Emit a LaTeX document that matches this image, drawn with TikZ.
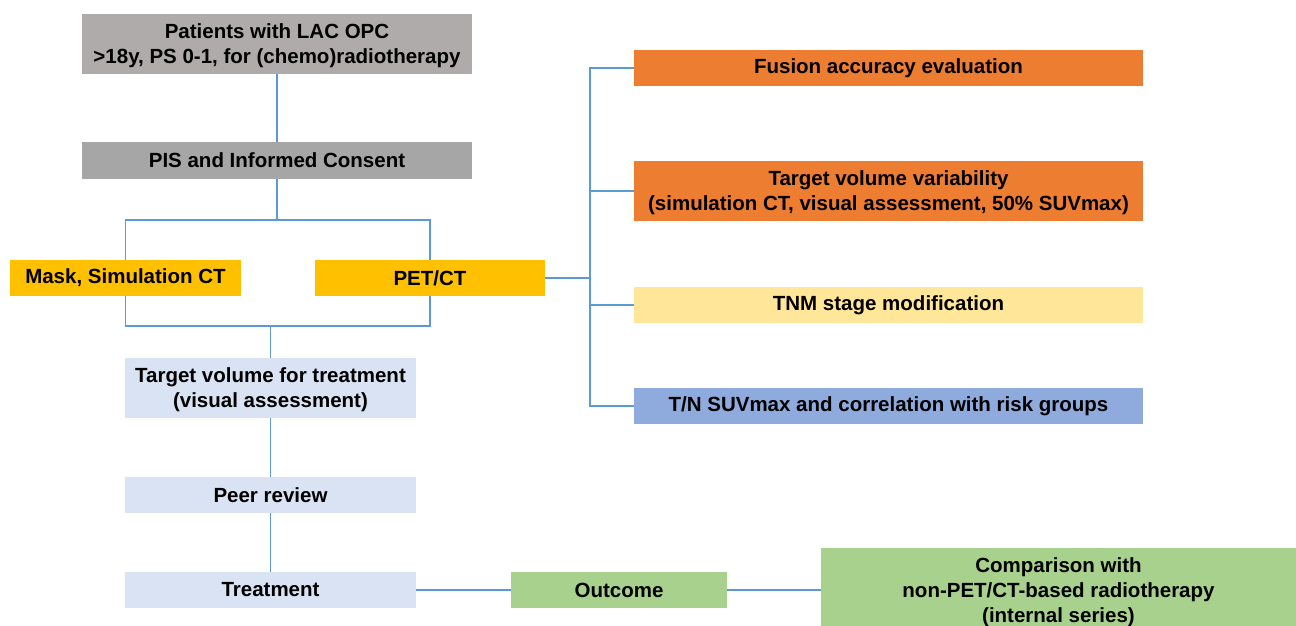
\documentclass[tikz,border=0pt]{standalone}
\usepackage{fontspec}
\setmainfont{Liberation Sans}
\usetikzlibrary{calc}
\definecolor{cgrayA}{HTML}{AFABAB}
\definecolor{cgrayB}{HTML}{A6A6A6}
\definecolor{cgold}{HTML}{FFC000}
\definecolor{corange}{HTML}{ED7D31}
\definecolor{cyellow}{HTML}{FFE699}
\definecolor{cblue}{HTML}{8FAADC}
\definecolor{cpale}{HTML}{DAE3F3}
\definecolor{cgreen}{HTML}{A9D18E}
\definecolor{cline}{HTML}{5B9BD5}
\tikzset{
  box/.style={rectangle, inner sep=0pt, align=center, text=black,
    font=\fontsize{20.5}{25}\selectfont\bfseries},
  multi/.style={text depth=0pt},
  conn/.style={draw=cline, line width=1.3pt}
}
\begin{document}
\begin{tikzpicture}[x=1pt,y=-1pt]
\useasboundingbox (0,0) rectangle (1296,626);
\clip (0,0) rectangle (1296,626);
\node[box, multi, fill=cgrayA, minimum width=390, minimum height=60] (patients) at (277,44) {Patients with LAC OPC\\>18y, PS 0-1, for (chemo)radiotherapy};
\node[box, fill=cgrayB, minimum width=390, minimum height=37] (pis) at (277,160.5) {PIS and Informed Consent};
\node[box, fill=cgold, minimum width=231, minimum height=36] (mask) at (125.5,278) {Mask, Simulation CT};
\node[box, fill=cgold, minimum width=230, minimum height=36] (pet) at (430,278) {PET/CT};
\node[box, multi, fill=cpale, minimum width=291, minimum height=60] (tv) at (270.5,388) {Target volume for treatment\\(visual assessment)};
\node[box, fill=cpale, minimum width=291, minimum height=36] (peer) at (270.5,495) {Peer review};
\node[box, fill=cpale, minimum width=291, minimum height=36] (treat) at (270.5,590) {Treatment};
\node[box, fill=cgreen, minimum width=216, minimum height=36] (outcome) at (619,590) {Outcome};
\node[box, multi, fill=cgreen, minimum width=475, minimum height=84] (comp) at (1058.5,590) {Comparison with\\non-PET/CT-based radiotherapy\\(internal series)};
\node[box, fill=corange, minimum width=509, minimum height=36] (fusion) at (888.5,68) {Fusion accuracy evaluation};
\node[box, multi, fill=corange, minimum width=509, minimum height=60] (tvv) at (888.5,191) {Target volume variability\\(simulation CT, visual assessment, 50\% SUVmax)};
\node[box, fill=cyellow, minimum width=509, minimum height=36] (tnm) at (888.5,305) {TNM stage modification};
\node[box, fill=cblue, minimum width=509, minimum height=36] (tn) at (888.5,406) {T/N SUVmax and correlation with risk groups};
\coordinate (split) at (277,220);
\coordinate (merge) at (270.5,326);
\coordinate (busTop) at (590,68);
\coordinate (busBot) at (590,406);
\coordinate (busMid) at (590,278);
\draw[conn] (patients.south) -- (pis.north);
\draw[conn] (pis.south) -- (split);
\draw[conn] (mask.north) |- (split) -| (pet.north);
\draw[conn] (mask.south) |- (merge) -| (pet.south);
\draw[conn] (merge) -- (tv.north);
\draw[conn] (tv.south) -- (peer.north);
\draw[conn] (peer.south) -- (treat.north);
\draw[conn] (treat.east) -- (outcome.west);
\draw[conn] (outcome.east) -- (comp.west);
\draw[conn] (pet.east) -- (busMid);
\draw[conn] (fusion.west) -- (busTop) -- (busBot) -- (tn.west);
\draw[conn] (tvv.west) -- (tvv.west -| busTop);
\draw[conn] (tnm.west) -- (tnm.west -| busTop);
\end{tikzpicture}
\end{document}
